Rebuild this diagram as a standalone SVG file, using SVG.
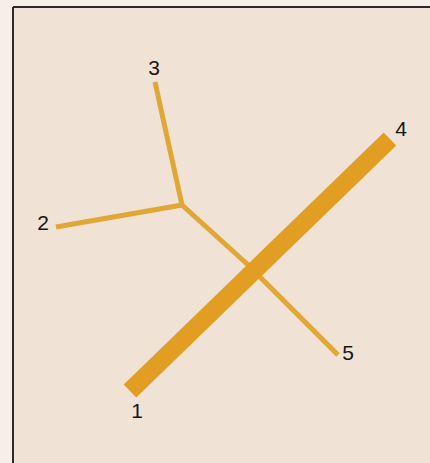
<svg xmlns="http://www.w3.org/2000/svg" width="430" height="463" viewBox="0 0 430 463">
<style>
.lbl{font-family:"Liberation Sans",Arial,sans-serif;font-size:21px;fill:#151515;text-anchor:middle}
.thin{stroke:#e0a636;stroke-width:5;fill:none;stroke-linejoin:round}
.thick{stroke:#e29e22;stroke-width:18;fill:none}
</style>
<rect x="0" y="0" width="430" height="463" fill="#f6efe8"/>
<rect x="13" y="7" width="417" height="456" fill="#f0e2d5"/>
<g id="frame" stroke="#2a2a2a" stroke-width="2" fill="none">
<line x1="13" y1="7" x2="430" y2="7"/>
<line x1="13" y1="7" x2="13" y2="463"/>
</g>
<g id="connectors">
<polyline class="thin" points="155,82 182,205"/>
<polyline class="thin" points="56,227 182,205"/>
<polyline class="thin" points="182,205 246,263 338,355"/>
<line class="thick" x1="130" y1="391" x2="390" y2="139"/>
</g>
<g id="n1"><text class="lbl" x="137" y="418">1</text></g>
<g id="n2"><text class="lbl" x="43" y="230">2</text></g>
<g id="n3"><text class="lbl" x="154" y="75">3</text></g>
<g id="n4"><text class="lbl" x="401" y="136">4</text></g>
<g id="n5"><text class="lbl" x="348" y="360">5</text></g>
</svg>
